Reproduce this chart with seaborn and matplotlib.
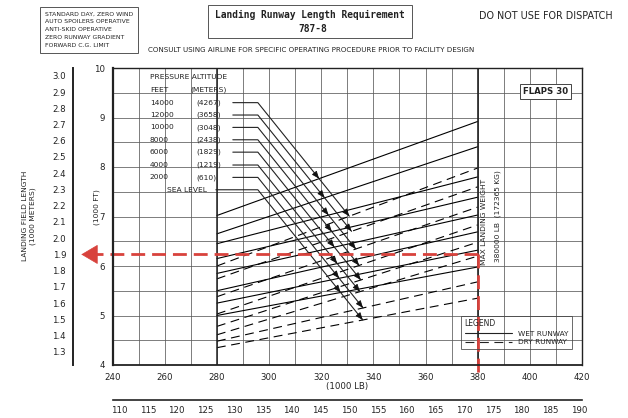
import matplotlib
matplotlib.use("Agg")
import numpy as np
import pandas as pd
import matplotlib.pyplot as plt
from matplotlib.lines import Line2D
import seaborn as sns

# ---------------- data ----------------
altitude_ft = ["SEA LEVEL", "2000", "4000", "6000", "8000", "10000", "12000", "14000"]
altitude_m = ["", "(610)", "(1219)", "(1829)", "(2438)", "(3048)", "(3658)", "(4267)"]
weights_klb = [280, 380]
wet_280 = [5.00, 5.25, 5.50, 5.85, 6.15, 6.45, 6.65, 7.02]
wet_380 = [5.98, 6.32, 6.69, 7.03, 7.39, 7.80, 8.41, 8.92]
dry_280 = [4.35, 4.48, 4.61, 4.78, 5.03, 5.38, 5.74, 6.00]
dry_380 = [5.35, 5.68, 6.20, 6.48, 6.83, 7.19, 7.60, 7.98]
label_rows_kft = [7.54, 7.79, 8.04, 8.30, 8.55, 8.80, 9.05, 9.30]
leader_start_klb = 295.7
leader_slope = -0.0654
x_ticks_klb = list(range(240, 421, 20))
y_ticks_kft = list(range(4, 11))
m_ticks = [1.3, 1.4, 1.5, 1.6, 1.7, 1.8, 1.9, 2.0, 2.1, 2.2, 2.3, 2.4, 2.5, 2.6, 2.7, 2.8, 2.9, 3.0]
kg_ticks = list(range(110, 191, 5))
mlw_klb = 380
mlw_kg = 172.365
ref_length_km = 1.9

LB_PER_KG = 2.20462
M_PER_FT = 0.3048

rows = []
for i, alt in enumerate(altitude_ft):
    for w, v in zip(weights_klb, [wet_280[i], wet_380[i]]):
        rows.append(dict(altitude=alt, runway="WET RUNWAY", weight=w, length=v))
    for w, v in zip(weights_klb, [dry_280[i], dry_380[i]]):
        rows.append(dict(altitude=alt, runway="DRY RUNWAY", weight=w, length=v))
df = pd.DataFrame(rows)

# ---------------- figure ----------------
sns.set_style("white")
plt.rcParams["font.family"] = ["DejaVu Sans"]
W, H = 628, 418
fig = plt.figure(figsize=(W / 100, H / 100), dpi=100)

def fx(px):
    return px / W

def fy(py):
    return 1 - py / H

ax_l, ax_r, ax_t, ax_b = 112.6, 582.0, 68.0, 365.0
ax = fig.add_axes([fx(ax_l), fy(ax_b), fx(ax_r - ax_l), (ax_b - ax_t) / H])

sns.lineplot(data=df, x="weight", y="length", hue="altitude", style="runway",
             palette=["black"] * len(altitude_ft),
             dashes={"WET RUNWAY": "", "DRY RUNWAY": (8, 5)},
             estimator=None, sort=False, legend=False, linewidth=0.8, ax=ax)

ax.set_xlim(240, 420)
ax.set_ylim(4, 10)
ax.set_xticks(x_ticks_klb)
ax.set_xticks(list(range(240, 421, 10)), minor=True)
ax.set_yticks(y_ticks_kft)
ax.set_yticks(list(np.arange(4, 10.01, 0.5)), minor=True)
ax.grid(True, which="both", color="#5a5a5a", lw=0.55)
ax.set_axisbelow(True)
ax.tick_params(axis="both", which="major", labelsize=6.2, length=3.5, width=0.7,
               direction="out", colors="#222222", pad=2)
ax.tick_params(axis="x", which="minor", length=3, width=0.6, direction="out")
ax.tick_params(axis="y", which="minor", length=0)
ax.set_xlabel("(1000 LB)", fontsize=6.2, labelpad=0, color="#222222")
ax.set_ylabel("")
for s in ax.spines.values():
    s.set_color("#222222")
    s.set_linewidth(1.0)
ax.spines["left"].set_linewidth(1.6)
ax.spines["bottom"].set_linewidth(1.3)
ax.axvline(280, color="#222222", lw=1.1)
ax.axvline(mlw_klb, color="#222222", lw=1.2)

# leader lines with arrows
for i in range(len(altitude_ft)):
    y0 = label_rows_kft[i]
    xs = 279.6 if i == 0 else 286.1

    def inter(a, b):
        s = (b - a) / 100.0
        return (a - s * 280 - y0 + leader_slope * leader_start_klb) / (leader_slope - s)

    xw = inter(wet_280[i], wet_380[i])
    xd = inter(dry_280[i], dry_380[i])
    yd = y0 + leader_slope * (xd - leader_start_klb)
    ax.plot([xs, leader_start_klb, xd], [y0, y0, yd], color="#222222", lw=0.8)
    for xe in (xw, xd):
        ye = y0 + leader_slope * (xe - leader_start_klb)
        xb = xe - 1.5
        yb = y0 + leader_slope * (xb - leader_start_klb)
        ax.annotate("", xy=(xe, ye), xytext=(xb, yb),
                    arrowprops=dict(arrowstyle="-|>,head_length=0.45,head_width=0.18",
                                    color="#111111", lw=0.6, shrinkA=0, shrinkB=0))
    if i == 0:
        ax.text(260.8, y0, "SEA LEVEL", fontsize=5.4, va="center", ha="left", color="#222222")
    else:
        ax.text(254.3, y0, altitude_ft[i], fontsize=5.4, va="center", ha="left", color="#222222")
        ax.text(272.2, y0, altitude_m[i], fontsize=5.4, va="center", ha="left", color="#222222")

ax.text(254.3, 10 - (77 - 68) / 49.5, "PRESSURE ALTITUDE", fontsize=5.4, va="center", ha="left", color="#222222")
ax.text(254.3, 10 - (89.7 - 68) / 49.5, "FEET", fontsize=5.4, va="center", ha="left", color="#222222")
ax.text(269.7, 10 - (89.7 - 68) / 49.5, "(METERS)", fontsize=5.4, va="center", ha="left", color="#222222")

# MLW text
ax.text(382.6, 6.9, "MAX LANDING WEIGHT", rotation=90, fontsize=5.4, ha="center", va="center", color="#222222")
ax.text(387.6, 7.0, "380000 LB  (172365 KG)", rotation=90, fontsize=5.4, ha="center", va="center", color="#222222")

# FLAPS box
ax.text(406.0, 10 - (91.5 - 68) / 49.5, "FLAPS 30", fontsize=6.2, fontweight="bold", ha="center", va="center",
        color="#222222", bbox=dict(boxstyle="square,pad=0.35", fc="white", ec="#444444", lw=0.7))

# reference red line
red = "#d8423c"
ref_kft = ref_length_km / M_PER_FT
ax.plot([mlw_klb, mlw_klb], [ref_kft, 3.75], color=red, lw=2.0, ls=(0, (5, 2.5)), clip_on=False)
ax.plot([mlw_klb, 233.0], [ref_kft, ref_kft], color=red, lw=2.0, ls=(0, (5, 2.5)), clip_on=False)
ax.annotate("", xy=(228.0, ref_kft), xytext=(234.0, ref_kft),
            arrowprops=dict(arrowstyle="-|>,head_length=1.1,head_width=0.65", color=red, lw=0.5,
                            shrinkA=0, shrinkB=0), annotation_clip=False)

# legend
handles = [Line2D([0], [0], color="#222222", lw=0.8),
           Line2D([0], [0], color="#222222", lw=0.8, ls=(0, (8, 5)))]
leg = ax.legend(handles, ["WET RUNWAY", "DRY RUNWAY"], title="LEGEND", loc="upper left",
                bbox_to_anchor=(0.734, 0.178), fontsize=5.3, title_fontsize=5.5,
                alignment="left", handlelength=6.5, handletextpad=0.8, borderpad=0.5,
                labelspacing=0.3, fancybox=False, frameon=True)
leg.get_frame().set_facecolor("none")
leg.get_frame().set_edgecolor("#444444")
leg.get_frame().set_linewidth(0.7)

# meters axis
axm = fig.add_axes([fx(73), fy(ax_b), 0.0001, (ax_b - ax_t) / H])
axm.set_ylim(4 * M_PER_FT, 10 * M_PER_FT)
axm.set_yticks(m_ticks)
axm.set_yticklabels([f"{v:.1f}" for v in m_ticks])
axm.set_xticks([])
for k in ["top", "right", "bottom"]:
    axm.spines[k].set_visible(False)
axm.spines["left"].set_linewidth(1.4)
axm.spines["left"].set_color("#222222")
axm.tick_params(axis="y", labelsize=6.2, length=3, width=0.6, direction="out", colors="#222222", pad=2)
axm.patch.set_alpha(0)

# kg axis
axk = fig.add_axes([fx(ax_l), fy(400), fx(ax_r - ax_l), 0.0001])
axk.set_xlim(240 / LB_PER_KG, 420 / LB_PER_KG)
axk.set_xticks(kg_ticks)
axk.set_xticks([mlw_kg], minor=True)
axk.set_yticks([])
for k in ["top", "right", "left"]:
    axk.spines[k].set_visible(False)
axk.spines["bottom"].set_linewidth(1.2)
axk.spines["bottom"].set_color("#222222")
axk.tick_params(axis="x", labelsize=6.2, length=2.5, width=0.6, direction="in", colors="#222222", pad=4)
axk.tick_params(axis="x", which="minor", length=3, width=0.8, direction="inout")
axk.patch.set_alpha(0)

# axis labels
fig.text(fx(25), fy(216), "LANDING FIELD LENGTH", rotation=90, fontsize=5.4, ha="center", va="center", color="#222222")
fig.text(fx(33), fy(216), "(1000 METERS)", rotation=90, fontsize=5.4, ha="center", va="center", color="#222222")
fig.text(fx(97), fy(207), "(1000 FT)", rotation=90, fontsize=5.4, ha="center", va="center", color="#222222")

# header texts
fig.text(fx(45), fy(11.5), "STANDARD DAY, ZERO WIND\nAUTO SPOILERS OPERATIVE\nANTI-SKID OPERATIVE\nZERO RUNWAY GRADIENT\nFORWARD C.G. LIMIT",
         fontsize=4.4, ha="left", va="top", linespacing=1.7, color="#222222",
         bbox=dict(boxstyle="square,pad=0.8", fc="white", ec="#555555", lw=0.7))
fig.text(fx(310), fy(15), "Landing Runway Length Requirement", family="DejaVu Sans Mono", fontweight="bold",
         fontsize=6.9, ha="center", va="center", color="#222222")
fig.text(fx(313), fy(29), "787-8", family="DejaVu Sans Mono", fontweight="bold",
         fontsize=6.9, ha="center", va="center", color="#222222")
fig.patches.append(plt.Rectangle((fx(208), fy(38)), fx(412 - 208), (38 - 5) / H, transform=fig.transFigure,
                                 fill=False, ec="#555555", lw=0.7))
fig.text(fx(546), fy(16), "DO NOT USE FOR DISPATCH", fontsize=6.9, ha="center", va="center", color="#222222")
fig.text(fx(311), fy(50), "CONSULT USING AIRLINE FOR SPECIFIC OPERATING PROCEDURE PRIOR TO FACILITY DESIGN",
         fontsize=5.1, ha="center", va="center", color="#222222")

fig.savefig("out.png", dpi=100)
